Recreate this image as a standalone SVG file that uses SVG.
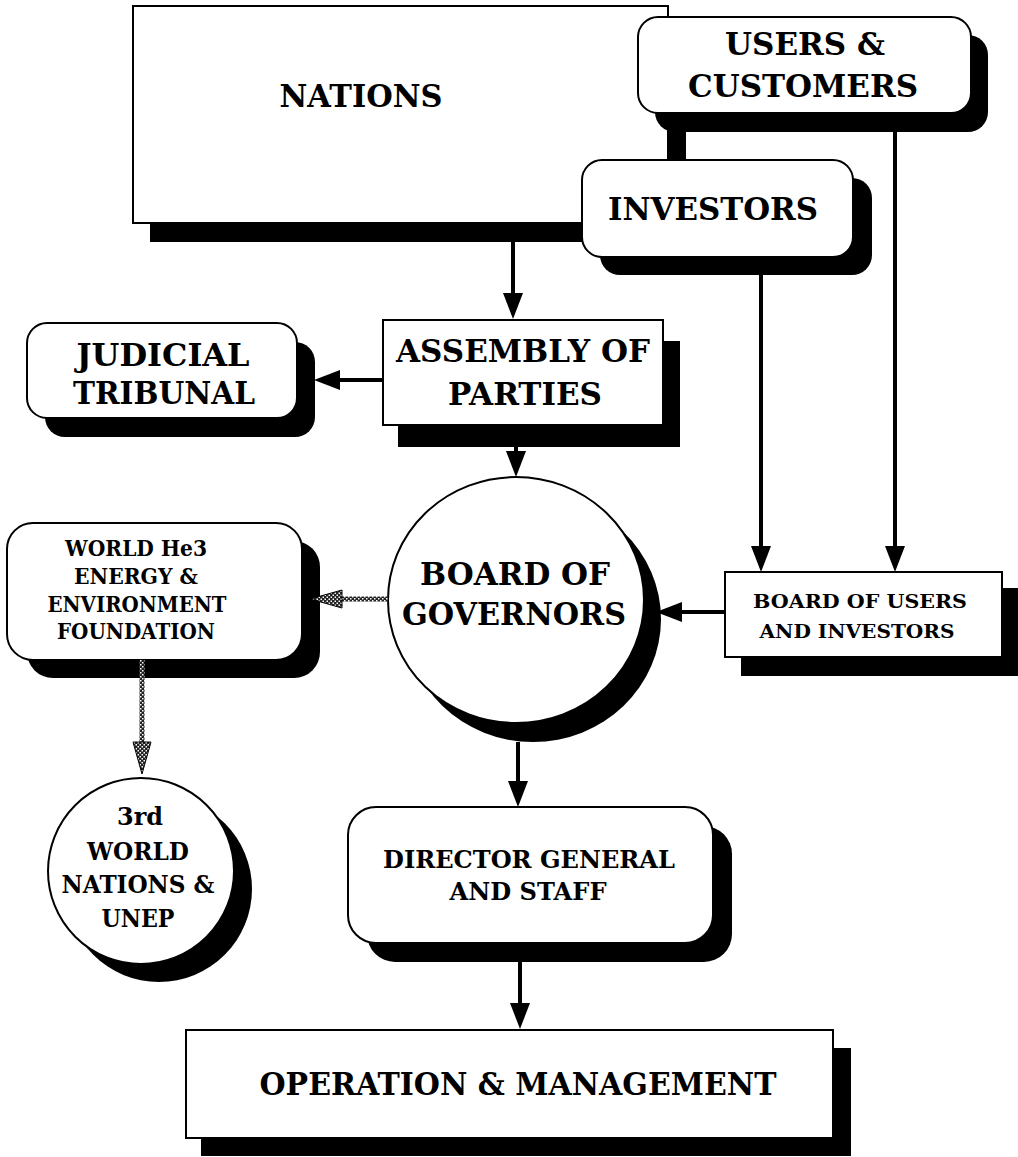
<svg xmlns="http://www.w3.org/2000/svg" width="1018" height="1157" viewBox="0 0 1018 1157">
<style>
.box{fill:#fff;stroke:#000;stroke-width:2}
.sh{fill:#000}
.t{font-family:"DejaVu Serif","Liberation Serif",serif;font-weight:bold;fill:#000;text-anchor:middle}
.big{font-size:32px}
.med{font-size:25px}
.sm{font-size:22px}
.xs{font-size:18px}
.ln{stroke:#000;stroke-width:4;fill:none}
.hl{stroke:url(#hatch);stroke-width:5;fill:none}
</style>
<defs>
<pattern id="hatch" width="4" height="4" patternUnits="userSpaceOnUse">
<rect width="4" height="4" fill="#222"/>
<rect width="1.5" height="1.5" fill="#fff"/>
<rect x="2" y="2" width="1.5" height="1.5" fill="#fff"/>
</pattern>
<marker id="ah" markerUnits="userSpaceOnUse" markerWidth="26" markerHeight="20" refX="0" refY="10" orient="auto" overflow="visible">
<path d="M0,0 L26,10 L0,20 z" fill="#000"/>
</marker>
<marker id="hh" markerUnits="userSpaceOnUse" markerWidth="32" markerHeight="18" refX="0" refY="9" orient="auto" overflow="visible">
<path d="M0,0 L32,9 L0,18 z" fill="url(#hatch)" stroke="#000" stroke-width="1"/>
</marker>
</defs>

<g id="nations">
<rect class="sh" x="150" y="25" width="536" height="217"/>
<rect class="box" x="133" y="6" width="535" height="217"/>
<text class="t big" x="361" y="107" textLength="163" lengthAdjust="spacingAndGlyphs">NATIONS</text>
</g>

<g id="users">
<rect class="sh" x="655" y="35" width="333" height="97" rx="20"/>
<rect class="box" x="638" y="17" width="333" height="96" rx="20"/>
<text class="t big" x="805" y="55" textLength="160" lengthAdjust="spacingAndGlyphs">USERS &amp;</text>
<text class="t big" x="803" y="97" textLength="230" lengthAdjust="spacingAndGlyphs">CUSTOMERS</text>
</g>

<g id="investors">
<rect class="sh" x="600" y="178" width="272" height="97" rx="20"/>
<rect class="box" x="582" y="160" width="271" height="97" rx="20"/>
<text class="t big" x="713" y="220" textLength="210" lengthAdjust="spacingAndGlyphs">INVESTORS</text>
</g>

<g id="judicial">
<rect class="sh" x="45" y="342" width="270" height="95" rx="20"/>
<rect class="box" x="27" y="323" width="270" height="95" rx="20"/>
<text class="t big" x="163" y="366" textLength="173" lengthAdjust="spacingAndGlyphs">JUDICIAL</text>
<text class="t big" x="164" y="404" textLength="182" lengthAdjust="spacingAndGlyphs">TRIBUNAL</text>
</g>

<g id="assembly">
<rect class="sh" x="398" y="341" width="282" height="106"/>
<rect class="box" x="383" y="320" width="280" height="105"/>
<text class="t big" x="523" y="362" textLength="254" lengthAdjust="spacingAndGlyphs">ASSEMBLY OF</text>
<text class="t big" x="525" y="405" textLength="154" lengthAdjust="spacingAndGlyphs">PARTIES</text>
</g>

<g id="board-of-governors">
<ellipse class="sh" cx="533" cy="619" rx="128" ry="123"/>
<ellipse class="box" cx="516" cy="600" rx="128" ry="123"/>
<text class="t big" x="515" y="585" textLength="190" lengthAdjust="spacingAndGlyphs">BOARD OF</text>
<text class="t big" x="514" y="625" textLength="224" lengthAdjust="spacingAndGlyphs">GOVERNORS</text>
</g>

<g id="world-foundation">
<rect class="sh" x="27" y="541" width="293" height="137" rx="26"/>
<rect class="box" x="7" y="523" width="295" height="137" rx="26"/>
<text class="t sm" x="136" y="556" textLength="142" lengthAdjust="spacingAndGlyphs">WORLD He3</text>
<text class="t sm" x="136" y="584" textLength="124" lengthAdjust="spacingAndGlyphs">ENERGY &amp;</text>
<text class="t sm" x="137" y="612" textLength="179" lengthAdjust="spacingAndGlyphs">ENVIRONMENT</text>
<text class="t sm" x="136" y="639" textLength="158" lengthAdjust="spacingAndGlyphs">FOUNDATION</text>
</g>

<g id="board-users-investors">
<rect class="sh" x="741" y="588" width="280" height="88"/>
<rect class="box" x="725" y="572" width="277" height="85"/>
<text class="t xs" x="860" y="608" textLength="214" lengthAdjust="spacingAndGlyphs">BOARD OF USERS</text>
<text class="t xs" x="857" y="638" textLength="195" lengthAdjust="spacingAndGlyphs">AND INVESTORS</text>
</g>

<g id="third-world">
<circle class="sh" cx="159" cy="889" r="93"/>
<circle class="box" cx="141" cy="871" r="93"/>
<text class="t med" x="140" y="825" textLength="46" lengthAdjust="spacingAndGlyphs">3rd</text>
<text class="t med" x="138" y="860" textLength="102" lengthAdjust="spacingAndGlyphs">WORLD</text>
<text class="t med" x="138" y="893" textLength="153" lengthAdjust="spacingAndGlyphs">NATIONS &amp;</text>
<text class="t med" x="138" y="927" textLength="73" lengthAdjust="spacingAndGlyphs">UNEP</text>
</g>

<g id="director">
<rect class="sh" x="367" y="826" width="365" height="136" rx="28"/>
<rect class="box" x="348" y="807" width="365" height="136" rx="28"/>
<text class="t med" x="529" y="868" textLength="292" lengthAdjust="spacingAndGlyphs">DIRECTOR GENERAL</text>
<text class="t med" x="528" y="900" textLength="157" lengthAdjust="spacingAndGlyphs">AND STAFF</text>
</g>

<g id="operation">
<rect class="sh" x="201" y="1048" width="650" height="108"/>
<rect class="box" x="186" y="1030" width="647" height="108"/>
<text class="t big" x="518" y="1095" textLength="517" lengthAdjust="spacingAndGlyphs">OPERATION &amp; MANAGEMENT</text>
</g>

<g id="connectors">
<line class="ln" x1="513" y1="242" x2="513" y2="293" marker-end="url(#ah)"/>
<line class="ln" x1="383" y1="380" x2="340" y2="380" marker-end="url(#ah)"/>
<line class="ln" x1="516" y1="447" x2="516" y2="451" marker-end="url(#ah)"/>
<line class="ln" x1="761" y1="274" x2="761" y2="546" marker-end="url(#ah)"/>
<line class="ln" x1="895" y1="132" x2="895" y2="546" marker-end="url(#ah)"/>
<line class="ln" x1="725" y1="612" x2="682" y2="612" marker-end="url(#ah)"/>
<line class="ln" x1="518" y1="742" x2="518" y2="781" marker-end="url(#ah)"/>
<line class="ln" x1="520" y1="962" x2="520" y2="1003" marker-end="url(#ah)"/>
<line class="hl" x1="388" y1="599" x2="342" y2="599" marker-end="url(#hh)"/>
<line class="hl" x1="142" y1="660" x2="142" y2="742" marker-end="url(#hh)"/>
</g>
</svg>
